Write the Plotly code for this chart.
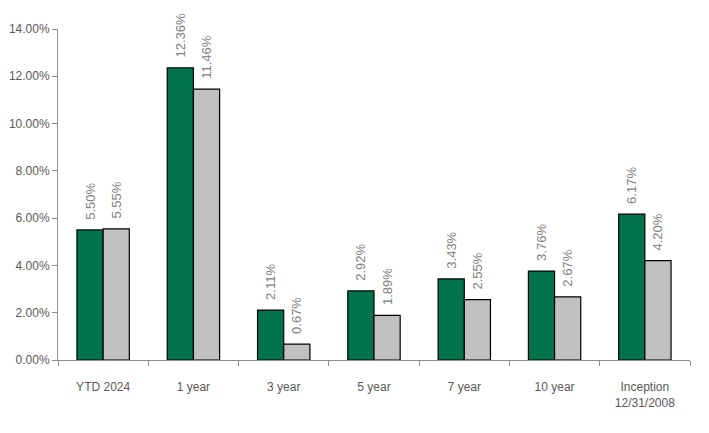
import plotly.graph_objects as go

# okresy i stopy zwrotu (%)
periods = ["YTD 2024", "1 year", "3 year", "5 year", "7 year", "10 year", "Inception<br>12/31/2008"]
fund = [5.50, 12.36, 2.11, 2.92, 3.43, 3.76, 6.17]
benchmark = [5.55, 11.46, 0.67, 1.89, 2.55, 2.67, 4.20]

label_font = dict(family="Arial, Liberation Sans, sans-serif", size=13, color="#808080")
# nbsp na poczatku -> odstep nad slupkiem
tmpl = "\u00a0\u00a0%{y:.2f}%"

fig = go.Figure()
fig.add_trace(go.Bar(x=periods, y=fund, name="Fund",
                     marker=dict(color="#00734a", line=dict(color="black", width=1.2)),
                     texttemplate=tmpl, textposition="outside",
                     textangle=-90, textfont=label_font, cliponaxis=False))
fig.add_trace(go.Bar(x=periods, y=benchmark, name="Benchmark",
                     marker=dict(color="#c0c0c0", line=dict(color="black", width=1.2)),
                     texttemplate=tmpl, textposition="outside",
                     textangle=-90, textfont=label_font, cliponaxis=False))

# strona ma 8px marginesu body, wiec figura jest mniejsza
fig.update_layout(
    width=701, height=425,
    margin=dict(l=50, r=19, t=21, b=73),
    plot_bgcolor="white", paper_bgcolor="white",
    barmode="group", bargap=0.42, bargroupgap=0,
    showlegend=False,
    uniformtext=dict(minsize=13, mode="show"),
    font=dict(family="Arial, Liberation Sans, sans-serif", size=12, color="#595959"),
)
fig.update_xaxes(showline=True, linecolor="#8c8c8c", linewidth=1,
                 ticks="outside", tickson="boundaries", ticklen=5, tickcolor="#8c8c8c",
                 tickfont=dict(size=12, color="#595959"), ticklabelstandoff=16,
                 automargin=False)
fig.update_yaxes(range=[0, 14], dtick=2, tickformat=".2f", ticksuffix="%",
                 showgrid=False, zeroline=False,
                 showline=True, linecolor="#8c8c8c", linewidth=1,
                 ticks="outside", ticklen=5, tickcolor="#8c8c8c",
                 tickfont=dict(size=12, color="#595959"), automargin=False)

fig.write_html("out.html")
